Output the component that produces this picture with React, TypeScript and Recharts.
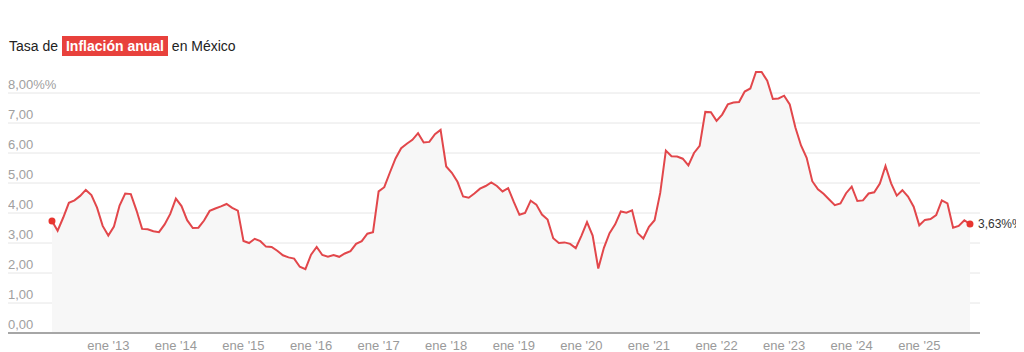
import React from 'react';
import { ComposedChart, Area, XAxis, YAxis, CartesianGrid } from 'recharts';

// Tasa de inflación anual en México (marzo 2012 – octubre 2025), %
const firstYear = 2012;
const firstMonth = 2; // marzo (0 = enero)
const inflation2012 = [3.73, 3.41, 3.85, 4.34, 4.42, 4.57, 4.77, 4.6, 4.18, 3.57];
const inflation2013 = [3.25, 3.55, 4.25, 4.65, 4.63, 4.09, 3.47, 3.46, 3.39, 3.36, 3.62, 3.97];
const inflation2014 = [4.48, 4.23, 3.76, 3.5, 3.51, 3.75, 4.07, 4.15, 4.22, 4.3, 4.17, 4.08];
const inflation2015 = [3.07, 3.0, 3.14, 3.06, 2.88, 2.87, 2.74, 2.59, 2.52, 2.48, 2.21, 2.13];
const inflation2016 = [2.61, 2.87, 2.6, 2.54, 2.6, 2.54, 2.65, 2.73, 2.97, 3.06, 3.31, 3.36];
const inflation2017 = [4.72, 4.86, 5.35, 5.82, 6.16, 6.31, 6.44, 6.66, 6.35, 6.37, 6.63, 6.77];
const inflation2018 = [5.55, 5.34, 5.04, 4.55, 4.51, 4.65, 4.81, 4.9, 5.02, 4.9, 4.72, 4.83];
const inflation2019 = [4.37, 3.94, 4.0, 4.41, 4.28, 3.95, 3.78, 3.16, 3.0, 3.02, 2.97, 2.83];
const inflation2020 = [3.24, 3.7, 3.25, 2.15, 2.84, 3.33, 3.62, 4.05, 4.01, 4.09, 3.33, 3.15];
const inflation2021 = [3.54, 3.76, 4.67, 6.08, 5.89, 5.88, 5.81, 5.59, 6.0, 6.24, 7.37, 7.36];
const inflation2022 = [7.07, 7.28, 7.62, 7.68, 7.7, 8.05, 8.15, 8.7, 8.7, 8.41, 7.8, 7.82];
const inflation2023 = [7.91, 7.62, 6.85, 6.25, 5.84, 5.06, 4.79, 4.64, 4.45, 4.26, 4.32, 4.66];
const inflation2024 = [4.88, 4.4, 4.42, 4.65, 4.69, 4.98, 5.57, 4.99, 4.58, 4.76, 4.55, 4.21];
const inflation2025 = [3.59, 3.77, 3.8, 3.93, 4.42, 4.32, 3.51, 3.57, 3.76, 3.63];

const monthNames = ['ene', 'feb', 'mar', 'abr', 'may', 'jun', 'jul', 'ago', 'sep', 'oct', 'nov', 'dic'];
const xTickLabels = ["ene '13", "ene '14", "ene '15", "ene '16", "ene '17", "ene '18", "ene '19", "ene '20", "ene '21", "ene '22", "ene '23", "ene '24", "ene '25"];
const yTicks = [0, 1, 2, 3, 4, 5, 6, 7, 8];

const allValues = [
  ...inflation2012, ...inflation2013, ...inflation2014, ...inflation2015, ...inflation2016,
  ...inflation2017, ...inflation2018, ...inflation2019, ...inflation2020, ...inflation2021,
  ...inflation2022, ...inflation2023, ...inflation2024, ...inflation2025,
];

const data = allValues.map((v, i) => {
  const m = firstMonth + i;
  const year = firstYear + Math.floor(m / 12);
  const label = `${monthNames[m % 12]} '${String(year).slice(2)}`;
  return { i, mes: label, v };
});

const lastIndex = data.length - 1;
const xTicks = xTickLabels.map((l) => data.findIndex((d) => d.mes === l));
const labelByIndex: Record<number, string> = {};
data.forEach((d) => { labelByIndex[d.i] = d.mes; });

const fmt = (v: number) => v.toFixed(2).replace('.', ',');

const RED = '#e2474b';
const DOT = '#e8352f';

const renderYTick = (props: any) => {
  const { y, payload, index } = props;
  const label = fmt(payload.value) + (payload.value === 8 ? '%%' : '');
  return (
    <text key={`yt${index}`} x={0} y={y - 4} fill="#a0a0a0" fontSize={13} textAnchor="start">
      {label}
    </text>
  );
};

const EndDot = (props: any) => {
  const { cx, cy, index, value } = props;
  if (index === 0) {
    return <circle key={`d${index}`} cx={cx} cy={cy} r={3.5} fill={DOT} />;
  }
  if (index === lastIndex) {
    const val = Array.isArray(value) ? value[1] : value;
    return (
      <g key={`d${index}`}>
        <circle cx={cx} cy={cy} r={3.5} fill={DOT} />
        <text x={cx + 8} y={cy} dy="0.35em" fill="#333" fontSize={12}>
          {fmt(val)}%%
        </text>
      </g>
    );
  }
  return <g key={`d${index}`} />;
};

export default function App() {
  return (
    <div style={{ position: 'relative', width: 1016, height: 344, fontFamily: '"Liberation Sans", Arial, sans-serif' }}>
      <div
        style={{
          position: 'absolute',
          left: 1,
          top: 28,
          height: 20,
          lineHeight: '20px',
          fontSize: 14,
          color: '#222',
          whiteSpace: 'nowrap',
        }}
      >
        Tasa de{' '}
        <span style={{ background: '#e8413c', color: '#fff', fontWeight: 'bold', padding: '0 4px', display: 'inline-block' }}>
          Inflación anual
        </span>{' '}
        en México
      </div>
      <ComposedChart
        width={1016}
        height={344}
        data={data}
        margin={{ top: 55, right: 44, bottom: 0, left: -1 }}
        style={{ position: 'absolute', left: 0, top: 0, fontFamily: '"Liberation Sans", Arial, sans-serif', overflow: 'visible' }}
      >
        <CartesianGrid horizontal vertical={false} horizontalValues={yTicks} stroke="#e6e6e6" strokeWidth={1} />
        <XAxis
          type="number"
          dataKey="i"
          domain={[-7.81, 164.78]}
          ticks={xTicks}
          tickFormatter={(v: number) => labelByIndex[v] ?? ''}
          interval={0}
          height={19}
          axisLine={{ stroke: '#8c8c8c', strokeWidth: 1.5 }}
          tickLine={false}
          tick={{ fill: '#9a9a9a', fontSize: 13 }}
        />
        <YAxis
          type="number"
          domain={[0, 9]}
          ticks={yTicks}
          interval={0}
          width={1}
          axisLine={false}
          tickLine={false}
          tick={renderYTick}
        />
        <Area
          type="linear"
          dataKey="v"
          stroke={RED}
          strokeWidth={2}
          fill="#f7f7f7"
          fillOpacity={1}
          dot={EndDot}
          activeDot={false}
          isAnimationActive={false}
        />
      </ComposedChart>
    </div>
  );
}
